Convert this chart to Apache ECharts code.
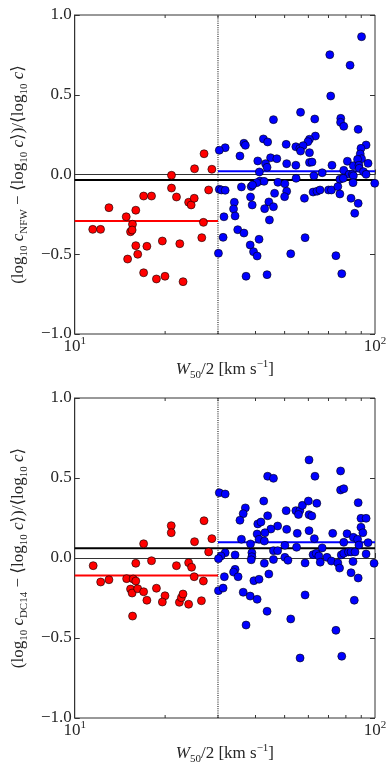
<!DOCTYPE html>
<html>
<head>
<meta charset="utf-8">
<script src="https://cdn.jsdelivr.net/npm/echarts@6/dist/echarts.min.js"></script>
<style>
  html, body { margin: 0; padding: 0; background: #fff; }
  #chart { width: 390px; height: 781px; }
</style>
</head>
<body>
<div id="chart"></div>
<script>
  // x axis range, split velocity, minor ticks
  var xRange = [10, 100];
  var splitW = 30;
  var xMinorTicks = [20, 30, 40, 50, 60, 70, 80, 90];

  // top panel (NFW): [W50/2, value]
  var nfwLow = [[11.48,-0.344],[12.19,-0.344],[13.0,-0.208],[14.84,-0.265],[15.97,-0.224],[16.96,-0.135],[18.02,-0.135],[15.57,-0.312],[15.34,-0.359],[15.53,-0.348],[15.97,-0.446],[17.39,-0.450],[16.21,-0.500],[15.0,-0.530],[16.96,-0.616],[18.71,-0.655],[19.98,-0.638],[19.58,-0.417],[22.38,-0.434],[22.95,-0.672],[21.0,-0.005],[21.0,-0.085],[21.82,-0.141],[23.95,-0.174],[24.42,-0.191],[25.0,-0.149],[25.06,0.036],[26.96,0.130],[28.62,0.033],[27.92,-0.097],[26.83,-0.300],[26.49,-0.396]];
  var nfwHigh = [[90.2,0.864],[70.7,0.751],[82.6,0.685],[71.2,0.492],[56.5,0.390],[45.9,0.344],[63.0,0.348],[76.9,0.352],[76.8,0.327],[78.7,0.302],[87.9,0.283],[63.3,0.241],[42.5,0.223],[43.9,0.204],[36.6,0.196],[37.0,0.183],[50.6,0.189],[31.7,0.168],[30.3,0.152],[35.5,0.116],[44.9,0.105],[47.1,0.099],[40.7,0.085],[43.2,0.068],[43.7,0.045],[50.8,0.068],[54.5,0.058],[41.2,0.016],[41.4,-0.041],[42.7,-0.043],[40.4,-0.051],[47.5,-0.049],[50.1,-0.058],[54.6,-0.024],[30.3,-0.093],[30.8,-0.097],[31.7,-0.099],[35.9,-0.078],[38.7,-0.076],[39.1,-0.066],[46.3,-0.118],[50.8,-0.105],[50.0,-0.139],[38.5,-0.141],[34.0,-0.174],[39.0,-0.191],[44.3,-0.172],[45.9,-0.202],[42.9,-0.214],[33.8,-0.216],[34.2,-0.260],[31.4,-0.265],[44.5,-0.285],[34.9,-0.346],[36.6,-0.367],[31.2,-0.394],[41.1,-0.406],[60.5,0.221],[59.8,0.206],[54.5,0.174],[56.2,0.164],[57.6,0.181],[56.5,0.147],[60.5,0.137],[93.4,0.185],[89.8,0.164],[89.3,0.129],[90.2,0.099],[87.5,0.095],[80.9,0.083],[94.8,0.070],[84.7,0.055],[88.4,0.058],[60.5,0.076],[61.7,0.078],[71.9,0.058],[78.7,0.026],[82.0,0.001],[84.1,0.001],[88.6,0.039],[91.5,0.018],[93.4,0.001],[84.7,-0.008],[62.6,-0.008],[66.7,0.011],[76.4,-0.030],[78.4,-0.024],[84.5,-0.051],[99.8,-0.055],[62.2,-0.110],[64.1,-0.105],[65.6,-0.097],[70.0,-0.097],[71.6,-0.097],[75.2,-0.076],[76.4,-0.122],[58.2,-0.149],[83.2,-0.149],[87.9,-0.181],[85.6,-0.243],[58.5,-0.396],[38.4,-0.442],[30.1,-0.494],[39.4,-0.484],[40.5,-0.511],[52.4,-0.497],[74.1,-0.509],[37.2,-0.638],[43.7,-0.628],[77.5,-0.622]];

  // bottom panel (DC14)
  var dc14Low = [[20.96,0.202],[20.96,0.158],[16.96,0.089],[25.06,0.102],[28.62,0.121],[26.95,0.233],[27.92,0.038],[11.52,-0.048],[15.97,-0.033],[18.02,-0.017],[21.81,-0.048],[23.95,-0.029],[24.50,-0.058],[24.99,-0.117],[12.20,-0.150],[13.0,-0.136],[14.89,-0.129],[15.65,-0.131],[15.97,-0.144],[15.34,-0.194],[15.53,-0.219],[16.21,-0.192],[16.96,-0.211],[17.39,-0.264],[18.71,-0.189],[19.98,-0.236],[19.58,-0.275],[22.31,-0.277],[22.65,-0.248],[22.94,-0.225],[23.95,-0.289],[26.42,-0.267],[26.82,-0.144],[15.58,-0.363]];
  var dc14High = [[60.3,0.613],[43.9,0.511],[45.9,0.498],[63.1,0.511],[76.8,0.544],[30.3,0.408],[31.7,0.400],[76.8,0.425],[78.7,0.433],[42.6,0.356],[37.0,0.313],[36.4,0.277],[35.5,0.236],[43.9,0.264],[50.6,0.296],[54.5,0.296],[56.2,0.297],[57.3,0.329],[60.0,0.356],[64.0,0.342],[55.6,0.272],[60.3,0.271],[61.6,0.263],[87.9,0.346],[89.8,0.248],[93.4,0.248],[40.7,0.213],[41.7,0.225],[47.4,0.200],[45.0,0.181],[50.8,0.179],[60.3,0.171],[89.8,0.192],[91.1,0.158],[40.5,0.150],[43.0,0.158],[55.1,0.154],[72.3,0.154],[80.7,0.152],[35.9,0.117],[41.1,0.117],[42.8,0.106],[62.8,0.121],[84.7,0.129],[87.5,0.117],[94.8,0.096],[78.7,0.098],[38.5,0.088],[50.1,0.079],[88.4,0.081],[54.8,0.067],[66.7,0.063],[31.7,0.033],[30.7,0.013],[30.1,-0.004],[34.2,0.019],[38.9,0.033],[38.9,0.008],[38.7,-0.011],[45.9,0.046],[47.4,0.046],[45.9,-0.009],[50.1,0.004],[51.3,-0.014],[62.2,0.021],[63.7,0.029],[65.0,0.013],[65.7,-0.026],[69.2,0.004],[71.6,-0.019],[75.2,-0.031],[77.2,0.019],[78.7,0.029],[81.6,0.038],[83.2,0.038],[85.8,0.038],[93.4,0.025],[84.5,-0.022],[99.3,-0.033],[42.8,-0.033],[58.5,-0.031],[34.2,-0.071],[76.2,-0.063],[33.8,-0.088],[35.0,-0.117],[31.5,-0.117],[30.1,-0.204],[31.2,-0.188],[39.5,-0.142],[41.1,-0.133],[44.3,-0.100],[83.2,-0.092],[87.9,-0.125],[36.4,-0.214],[38.4,-0.238],[40.5,-0.258],[58.5,-0.231],[85.3,-0.264],[43.7,-0.333],[37.2,-0.419],[52.4,-0.381],[74.1,-0.452],[56.3,-0.625],[77.5,-0.614]];

  // mean lines, index 0 = top panel, 1 = bottom panel
  var meanLow = [-0.292, -0.11];
  var meanHigh = [0.020, 0.098];
  var meanAll = [-0.034, 0.061];

  var FONT = "'Liberation Serif', 'DejaVu Serif', serif";
  var TXT = '#262626';
  var rich = {
    i: { fontStyle: 'italic', fontSize: 17, fontFamily: FONT, color: TXT, lineHeight: 22 },
    sub: { fontSize: 11, fontFamily: FONT, color: TXT, lineHeight: 13, verticalAlign: 'bottom' },
    sup: { fontSize: 11, fontFamily: FONT, color: TXT, lineHeight: 13, verticalAlign: 'top' }
  };

  var chart = echarts.init(document.getElementById('chart'));

  var grids = [
    { left: 70, top: 15, width: 305, height: 319 },
    { left: 70, top: 398, width: 305, height: 320 }
  ];
  var yNames = [
    '(log{sub|10} {i|c}{sub|NFW} − ⟨log{sub|10} {i|c}⟩)/⟨log{sub|10} {i|c}⟩',
    '(log{sub|10} {i|c}{sub|DC14} − ⟨log{sub|10} {i|c}⟩)/⟨log{sub|10} {i|c}⟩'
  ];
  var lows = [nfwLow, dc14Low];
  var highs = [nfwHigh, dc14High];

  var xAxes = [], yAxes = [], series = [];
  grids.forEach(function (g, k) {
    g.show = true;
    g.borderColor = '#333';
    g.borderWidth = 1;
    xAxes.push({
      type: 'log', logBase: 10, gridIndex: k,
      min: xRange[0], max: xRange[1],
      name: '{i|W}{sub|50}/2 [km s{sup|−1}]',
      nameLocation: 'middle', nameGap: 13,
      nameTextStyle: { fontSize: 17, fontFamily: FONT, color: TXT, lineHeight: 22, rich: rich },
      axisLine: { lineStyle: { color: '#333' } },
      axisTick: { inside: true, length: 5 },
      splitLine: { show: false },
      minorTick: { show: false },
      axisLabel: {
        margin: 2, fontSize: 17, fontFamily: FONT, color: TXT, lineHeight: 22,
        formatter: function (v) { return '10{sup|' + Math.round(Math.log10(v)) + '}'; },
        rich: rich
      }
    });
    yAxes.push({
      type: 'value', gridIndex: k, min: -1, max: 1, interval: 0.5,
      name: yNames[k], nameLocation: 'middle', nameRotate: 90, nameGap: 36,
      nameTextStyle: { fontSize: 17, fontFamily: FONT, color: TXT, lineHeight: 22, rich: rich },
      axisLine: { show: true, lineStyle: { color: '#333' } },
      axisTick: { show: true, inside: true, length: 5, lineStyle: { color: '#333' } },
      splitLine: { show: false },
      axisLabel: {
        margin: 3, fontSize: 17, fontFamily: FONT, color: TXT,
        formatter: function (v) { return (v < 0 ? '−' : '') + Math.abs(v).toFixed(1); }
      }
    });
    yAxes.push({
      type: 'value', gridIndex: k, min: -1, max: 1, interval: 0.5, position: 'right',
      axisLine: { show: false },
      axisTick: { show: true, inside: true, length: 5, lineStyle: { color: '#333' } },
      axisLabel: { show: false },
      splitLine: { show: false }
    });

    var xi = k, yi = k * 2;
    // dotted split line
    series.push({
      type: 'line', xAxisIndex: xi, yAxisIndex: yi, silent: true, symbol: 'none', z: 1,
      data: [[splitW, -1], [splitW, 1]],
      lineStyle: { color: '#000', width: 1, type: [1, 1.2] }
    });
    // mean lines
    series.push({
      type: 'line', xAxisIndex: xi, yAxisIndex: yi, silent: true, symbol: 'none', z: 2,
      data: [[xRange[0], meanAll[k]], [xRange[1], meanAll[k]]],
      lineStyle: { color: '#000', width: 2 }
    });
    series.push({
      type: 'line', xAxisIndex: xi, yAxisIndex: yi, silent: true, symbol: 'none', z: 2,
      data: [[xRange[0], meanLow[k]], [splitW, meanLow[k]]],
      lineStyle: { color: '#ff0000', width: 2 }
    });
    series.push({
      type: 'line', xAxisIndex: xi, yAxisIndex: yi, silent: true, symbol: 'none', z: 2,
      data: [[splitW, meanHigh[k]], [xRange[1], meanHigh[k]]],
      lineStyle: { color: '#0000ff', width: 2 }
    });
    // points
    series.push({
      type: 'scatter', xAxisIndex: xi, yAxisIndex: yi, z: 3, symbolSize: 8,
      data: lows[k],
      itemStyle: { color: '#ff0000', borderColor: '#000', borderWidth: 0.6, opacity: 1 }
    });
    series.push({
      type: 'scatter', xAxisIndex: xi, yAxisIndex: yi, z: 3, symbolSize: 8,
      data: highs[k],
      itemStyle: { color: '#0000ff', borderColor: '#000', borderWidth: 0.6, opacity: 1 }
    });
    // log minor ticks on bottom and top edges
    series.push({
      type: 'custom', xAxisIndex: xi, yAxisIndex: yi, silent: true, z: 4,
      data: xMinorTicks.map(function (v) { return [v, 0]; }),
      encode: { x: 0, y: 1 },
      renderItem: function (params, api) {
        var x = api.coord([api.value(0), 0])[0];
        var cs = params.coordSys;
        var st = { stroke: '#333', lineWidth: 1 };
        return {
          type: 'group',
          children: [
            { type: 'line', shape: { x1: x, y1: cs.y + cs.height, x2: x, y2: cs.y + cs.height - 3 }, style: st },
            { type: 'line', shape: { x1: x, y1: cs.y, x2: x, y2: cs.y + 3 }, style: st }
          ]
        };
      }
    });
  });

  chart.setOption({
    animation: false,
    backgroundColor: '#fff',
    grid: grids,
    xAxis: xAxes,
    yAxis: yAxes,
    series: series
  });
</script>
</body>
</html>
